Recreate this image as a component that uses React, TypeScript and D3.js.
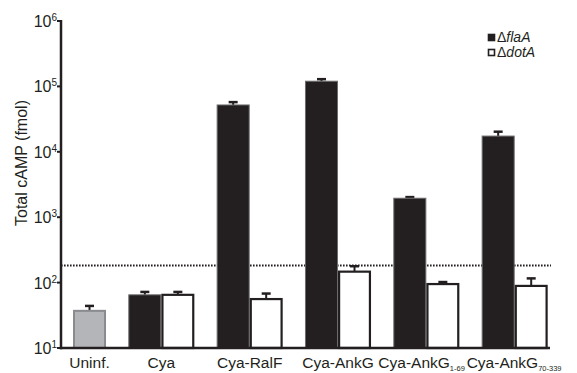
import * as d3 from "d3";
import { useEffect, useRef } from "react";

// group labels (main part + subscript)
const categories = ["Uninf.", "Cya", "Cya-RalF", "Cya-AnkG", "Cya-AnkG", "Cya-AnkG"];
const subscripts = ["", "", "", "", "1-69", "70-339"];
// uninfected control (single bar)
const uninfValue = 37;
const uninfErr = 7;
// ΔflaA series (black), Cya onwards
const flaA = [65, 52000, 120000, 1950, 17400];
const flaAErr = [7, 5500, 9000, 80, 2900];
// ΔdotA series (white), Cya onwards
const dotA = [65, 56, 147, 95, 89];
const dotAErr = [7, 12, 31, 7, 27];
const threshold = 182;
const yTicks = [1, 2, 3, 4, 5, 6];
const legendLabels = ["flaA", "dotA"];

const W = 577;
const H = 373;
const margin = { left: 61, top: 21, bottom: 348 };
const INK = "#231f20";
const FONT = "Liberation Sans, Arial, sans-serif";

export default function App() {
  const svgRef = useRef<SVGSVGElement>(null);

  useEffect(() => {
    const svg = d3.select(svgRef.current);
    svg.selectAll("*").remove();

    //Y SCALE (LOG)
    const y = d3.scaleLog().domain([10, 1e6]).range([margin.bottom, margin.top]);

    //X LAYOUT IN BAR UNITS: 1 UNIT PER BAR, GAP BETWEEN GROUPS
    const gap = 0.675;
    const nBars = categories.map((_, i) => (i === 0 ? 1 : 2));
    const starts: number[] = [];
    let acc = 0;
    nBars.forEach((n) => {
      starts.push(acc);
      acc += n + gap;
    });
    const total = acc - gap;
    const x = d3.scaleLinear().domain([0, total]).range([73, 547.7]);
    const bw = x(1) - x(0);

    //DOTTED THRESHOLD LINE
    svg
      .append("line")
      .attr("x1", margin.left)
      .attr("x2", 551)
      .attr("y1", y(threshold))
      .attr("y2", y(threshold))
      .attr("stroke", INK)
      .attr("stroke-width", 2)
      .attr("stroke-dasharray", "1.6 1.4");

    const drawBar = (x0: number, v: number, e: number, fill: string, stroke: string, sw: number) => {
      const yt = y(v);
      const yc = y(v + e);
      const cx = x0 + bw / 2;
      svg
        .append("line")
        .attr("x1", cx)
        .attr("x2", cx)
        .attr("y1", yt)
        .attr("y2", yc)
        .attr("stroke", INK)
        .attr("stroke-width", 2);
      svg
        .append("line")
        .attr("x1", cx - 4.5)
        .attr("x2", cx + 4.5)
        .attr("y1", yc)
        .attr("y2", yc)
        .attr("stroke", INK)
        .attr("stroke-width", 2.5);
      svg
        .append("rect")
        .attr("x", x0 + sw / 2)
        .attr("y", yt)
        .attr("width", bw - sw)
        .attr("height", margin.bottom - yt)
        .attr("fill", fill)
        .attr("stroke", stroke)
        .attr("stroke-width", sw);
    };

    //UNINFECTED BAR
    drawBar(x(starts[0]), uninfValue, uninfErr, "#b4b5b8", "#8a8b8e", 2);
    //PAIRED BARS
    flaA.forEach((v, i) => {
      const s = starts[i + 1];
      drawBar(x(s), v, flaAErr[i], INK, "#6d6b6c", 1);
      drawBar(x(s + 1), dotA[i], dotAErr[i], "#ffffff", INK, 2.2);
    });

    //AXES
    svg
      .append("line")
      .attr("x1", margin.left)
      .attr("x2", margin.left)
      .attr("y1", margin.top - 1)
      .attr("y2", margin.bottom + 1.2)
      .attr("stroke", INK)
      .attr("stroke-width", 2.5);
    svg
      .append("line")
      .attr("x1", margin.left - 1.2)
      .attr("x2", 550)
      .attr("y1", margin.bottom)
      .attr("y2", margin.bottom)
      .attr("stroke", INK)
      .attr("stroke-width", 2.5);

    //Y TICKS
    const tg = svg
      .selectAll("g.tick")
      .data(yTicks)
      .enter()
      .append("g")
      .attr("transform", (d) => `translate(0, ${y(Math.pow(10, d))})`);
    tg.append("line")
      .attr("x1", margin.left - 4)
      .attr("x2", margin.left)
      .attr("stroke", INK)
      .attr("stroke-width", 2);
    const tt = tg
      .append("text")
      .attr("x", 57)
      .attr("y", 6)
      .attr("text-anchor", "end")
      .attr("font-family", FONT)
      .attr("font-size", 16)
      .attr("fill", INK);
    tt.append("tspan").text("10");
    tt.append("tspan")
      .attr("font-size", 10)
      .attr("dy", -6)
      .text((d) => String(d));

    //Y TITLE
    svg
      .append("text")
      .attr("transform", `translate(27, 163) rotate(-90)`)
      .attr("text-anchor", "middle")
      .attr("font-family", FONT)
      .attr("font-size", 16)
      .attr("fill", INK)
      .text("Total cAMP (fmol)");

    //X LABELS
    categories.forEach((c, i) => {
      const cx = x(starts[i] + nBars[i] / 2);
      const t = svg
        .append("text")
        .attr("x", subscripts[i] ? cx - 48 : cx)
        .attr("y", 367.5)
        .attr("text-anchor", subscripts[i] ? "start" : "middle")
        .attr("font-family", FONT)
        .attr("font-size", 15.5)
        .attr("fill", INK);
      t.append("tspan").text(c);
      if (subscripts[i]) {
        t.append("tspan").attr("font-size", 7.5).attr("dy", 3.5).text(subscripts[i]);
      }
    });

    //LEGEND
    legendLabels.forEach((l, i) => {
      const ly = 42 + i * 15;
      svg
        .append("rect")
        .attr("x", 488.5)
        .attr("y", ly - 7.5)
        .attr("width", 6)
        .attr("height", 6)
        .attr("fill", i === 0 ? INK : "#ffffff")
        .attr("stroke", INK)
        .attr("stroke-width", 1.6);
      const t = svg
        .append("text")
        .attr("x", 497)
        .attr("y", ly)
        .attr("font-family", FONT)
        .attr("font-size", 14)
        .attr("fill", INK);
      t.append("tspan").text("\u0394");
      t.append("tspan").attr("font-style", "italic").text(l);
    });
  }, []);

  return (
    <svg
      ref={svgRef}
      width={W}
      height={H}
      style={{ position: "absolute", left: 0, top: 0, background: "#fff" }}
    />
  );
}
